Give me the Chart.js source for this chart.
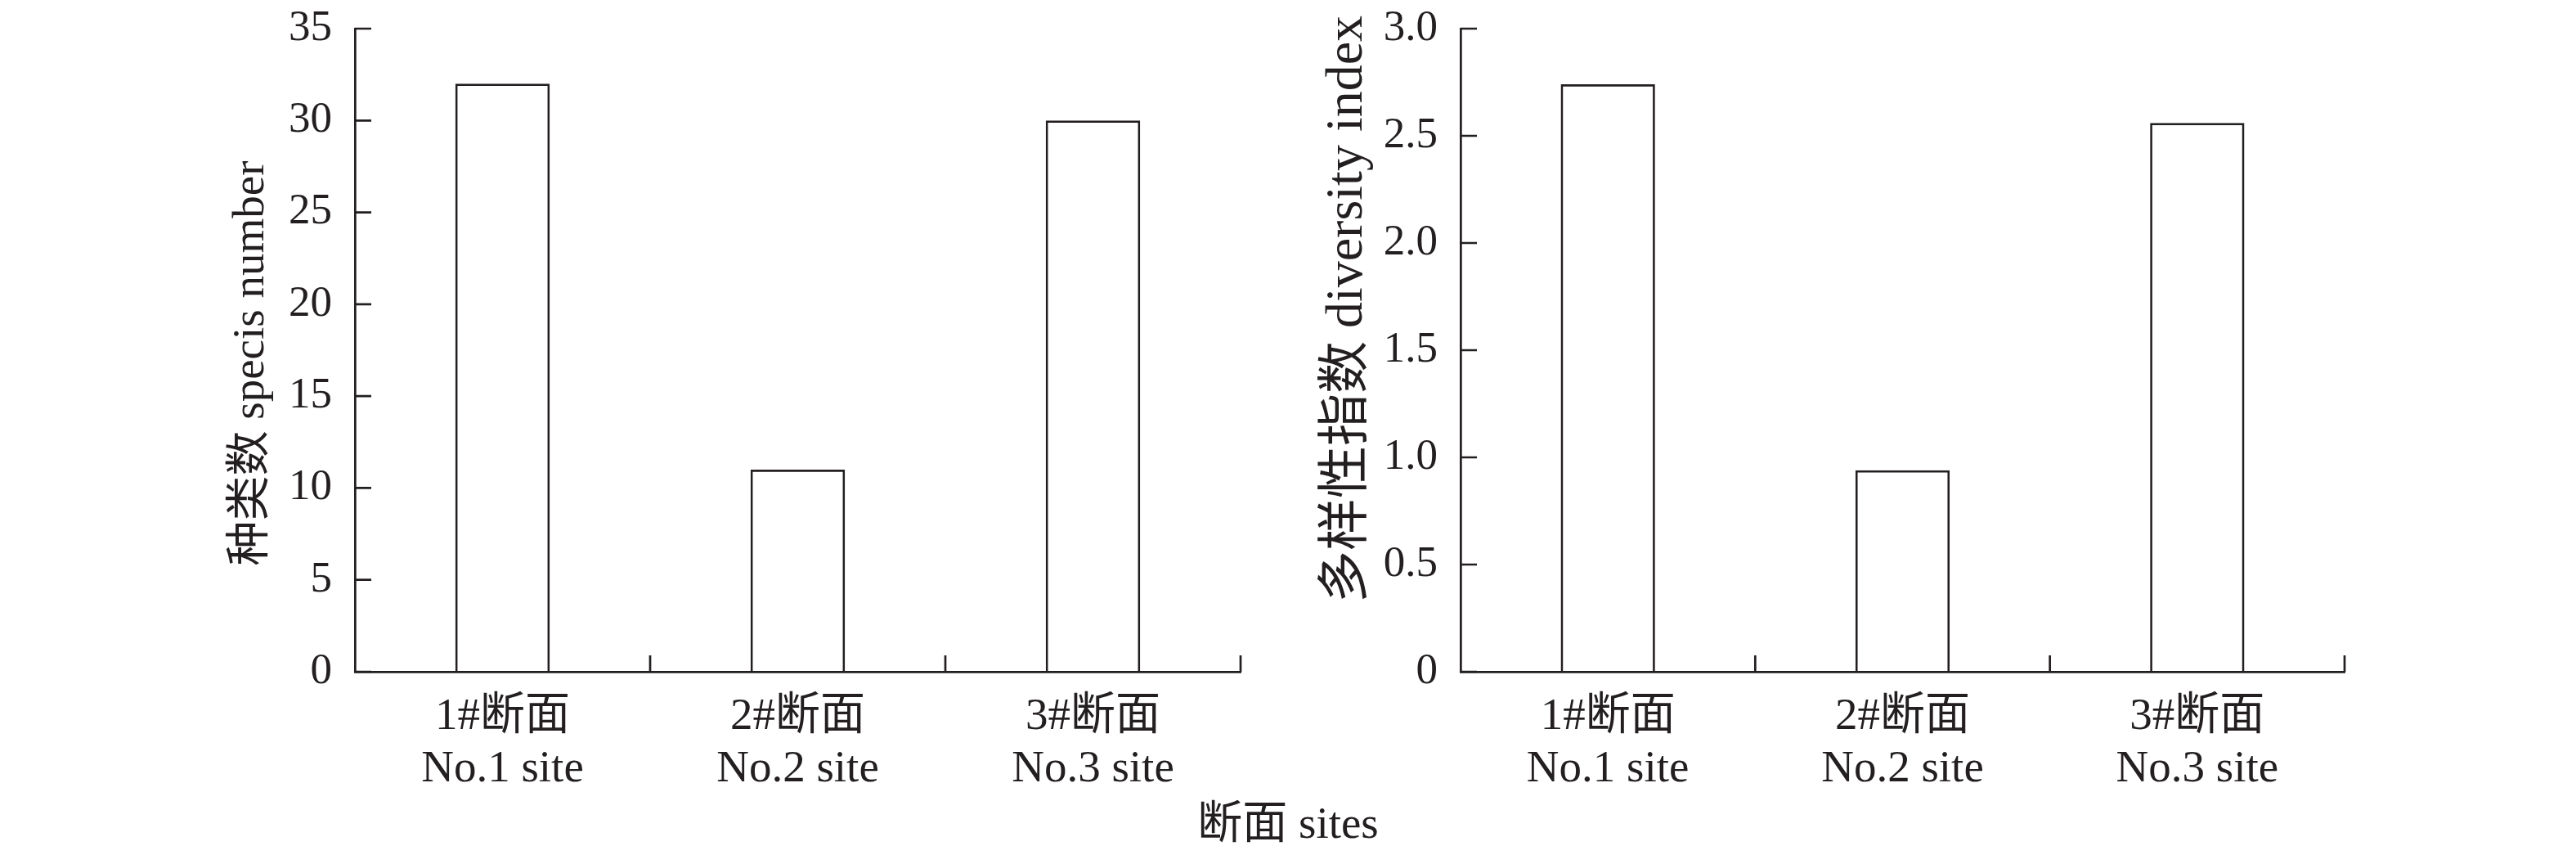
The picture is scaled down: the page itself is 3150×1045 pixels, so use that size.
<!DOCTYPE html>
<html>
<head>
<meta charset="utf-8">
<script src="https://cdn.jsdelivr.net/npm/chart.js@4.4.1/dist/chart.umd.min.js"></script>
<style>
  body { margin: 0; background: #fff; width: 3150px; height: 1045px; position: relative; overflow: hidden; }
  canvas { position: absolute; top: 0; }
  #c1 { left: 0; }
  #c2 { left: 1575px; }
  #xtitle {
    position: absolute; left: 0; top: 976px; width: 3150px; text-align: center;
    font: 55px/60px "Liberation Serif", "Noto Sans CJK SC", serif; color: #231f20;
  }
</style>
</head>
<body>
<canvas id="c1" width="1575" height="1045"></canvas>
<canvas id="c2" width="1575" height="1045"></canvas>
<div id="xtitle">断面 sites</div>
<script>
// data
const sitesCn = ["1#断面", "2#断面", "3#断面"];
const sitesEn = ["No.1 site", "No.2 site", "No.3 site"];
const speciesNumber = [32, 11, 30];
const diversityIndex = [2.74, 0.94, 2.56];

const ink = "#231f20";
const serif = '"Liberation Serif", "Noto Sans CJK SC", serif';
const lineW = 2.7;
const labels = sitesCn.map((c, i) => [c, sitesEn[i]]);

// short tick marks pointing into the plot, like the printed figure
const insideTicks = {
  id: "insideTicks",
  afterDatasetsDraw(chart) {
    const { ctx, chartArea, scales } = chart;
    const x = scales.x, y = scales.y;
    ctx.save();
    ctx.strokeStyle = ink;
    ctx.lineWidth = lineW;
    ctx.beginPath();
    y.ticks.forEach((t) => {
      const py = y.getPixelForValue(t.value);
      ctx.moveTo(chartArea.left, py);
      ctx.lineTo(chartArea.left + 20, py);
    });
    for (let i = 0; i < x.ticks.length; i++) {
      const px = x.getPixelForValue(i + 0.5);
      ctx.moveTo(px, chartArea.bottom);
      ctx.lineTo(px, chartArea.bottom - 20);
    }
    ctx.stroke();
    ctx.restore();
  },
};

// rotated y title, placed where the original has it
const yTitle = {
  id: "yTitle",
  afterDraw(chart, args, opts) {
    const ctx = chart.ctx;
    ctx.save();
    ctx.translate(opts.x, opts.y);
    ctx.rotate(-Math.PI / 2);
    ctx.fillStyle = ink;
    ctx.font = opts.size + "px " + serif;
    ctx.textAlign = "center";
    ctx.textBaseline = "middle";
    ctx.fillText(opts.text, 0, 0);
    ctx.restore();
  },
};

function makeChart(id, values, yMax, step, fmt, rightPad, yWidth, title) {
  return new Chart(document.getElementById(id), {
    type: "bar",
    data: {
      labels: labels,
      datasets: [{
        data: values,
        backgroundColor: "rgba(0,0,0,0)",
        borderColor: ink,
        borderWidth: lineW,
        categoryPercentage: 1,
        barPercentage: 0.32,
      }],
    },
    options: {
      responsive: false,
      animation: false,
      devicePixelRatio: 1,
      layout: { padding: { top: 35, right: rightPad, left: 0, bottom: 0 } },
      plugins: { legend: { display: false }, tooltip: { enabled: false }, yTitle: title },
      scales: {
        x: {
          grid: { display: false },
          border: { color: ink, width: lineW },
          ticks: { color: ink, padding: 15, font: { family: serif, size: 55, lineHeight: 1.17 } },
          afterFit: (s) => { s.height = 224; s.paddingLeft = 0; s.paddingRight = 0; },
        },
        y: {
          min: 0,
          max: yMax,
          grid: { display: false },
          border: { color: ink, width: lineW },
          ticks: { stepSize: step, color: ink, padding: 20, font: { family: serif, size: 53 }, callback: fmt },
          afterFit: (s) => { s.width = yWidth; s.paddingTop = 0; s.paddingBottom = 0; },
        },
      },
    },
    plugins: [insideTicks, yTitle],
  });
}

makeChart("c1", speciesNumber, 35, 5, (v) => v, 58, 434,
  { text: "种类数 specis number", x: 308, y: 444, size: 55 });
makeChart("c2", diversityIndex, 3, 0.5, (v) => (v === 0 ? "0" : v.toFixed(1)), 283, 211,
  { text: "多样性指数 diversity index", x: 73, y: 378, size: 64 });
</script>
</body>
</html>
